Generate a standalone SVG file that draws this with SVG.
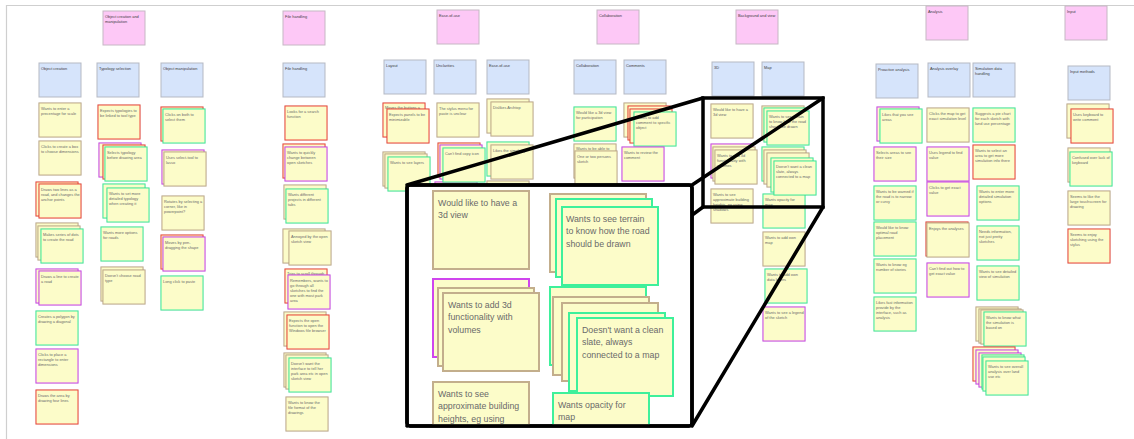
<svg xmlns="http://www.w3.org/2000/svg" width="1134" height="439" viewBox="0 0 1134 439">
<defs>
<style>
.bg{fill:#ffffff}
.frame{fill:none;stroke:#cfcfcf;stroke-width:1.2}
.n{fill:#fcfcc9;stroke-width:1;filter:drop-shadow(0.4px 0.6px 0.5px rgba(0,0,0,0.18))}
.t{stroke:#c3ae8c}
.r{stroke:#f0473b}
.g{stroke:#3ef09b}
.p{stroke:#cf45ee}
.hb{fill:#d6e4fb;stroke:#b5b9c3;stroke-width:1}
.hp{fill:#fdc8f6;stroke:#c6b7c4;stroke-width:1}
.s{font-family:"Liberation Sans",Arial,sans-serif;font-size:3.9px;fill:#6a6a6a}
.h{font-family:"Liberation Sans",Arial,sans-serif;font-size:3.9px;fill:#3e3e3e}
.big{font-family:"Liberation Sans",Arial,sans-serif;font-size:8.8px;fill:#6a6a6a}
.bn{fill:#fcfcc9;stroke-width:2}
.con{stroke:#000;stroke-width:3.5;fill:none;stroke-linecap:round}
.box{fill:#ffffff;stroke:#000;stroke-width:3.5}
</style>
<clipPath id="insetClip"><rect x="408.5" y="186.5" width="282" height="238"/></clipPath>
</defs>
<rect class="bg" x="0" y="0" width="1134" height="439"/>
<path class="frame" d="M6.5 439 V5.5 H1134"/>

<!-- Pink category headers -->
<g id="cat-object"><rect class="hp" x="103" y="11" width="42" height="34"/><text class="h" x="105" y="17.5">Object creation and<tspan x="105" dy="5.2">manipulation</tspan></text></g>
<g id="cat-file"><rect class="hp" x="283" y="11" width="42" height="34"/><text class="h" x="285" y="17.5">File handling</text></g>
<g id="cat-ease"><rect class="hp" x="437" y="10" width="42" height="34"/><text class="h" x="439" y="16.5">Ease-of-use</text></g>
<g id="cat-collab"><rect class="hp" x="597" y="10" width="42" height="34"/><text class="h" x="599" y="16.5">Collaboration</text></g>
<g id="cat-bg"><rect class="hp" x="736" y="10" width="42" height="34"/><text class="h" x="738" y="16.5">Background and view</text></g>
<g id="cat-analysis"><rect class="hp" x="926" y="6" width="42" height="34"/><text class="h" x="928" y="12.5">Analysis</text></g>
<g id="cat-input"><rect class="hp" x="1065" y="6" width="42" height="34"/><text class="h" x="1067" y="12.5">Input</text></g>

<!-- Blue sub headers -->
<g id="h-objcreation"><rect class="hb" x="39" y="63" width="42" height="34"/><text class="h" x="41" y="69.5">Object creation</text></g>
<g id="h-typology"><rect class="hb" x="97" y="63" width="42" height="34"/><text class="h" x="99" y="69.5">Typology selection</text></g>
<g id="h-objmanip"><rect class="hb" x="161" y="63" width="42" height="34"/><text class="h" x="163" y="69.5">Object manipulation</text></g>
<g id="h-file"><rect class="hb" x="283" y="63" width="42" height="34"/><text class="h" x="285" y="69.5">File handling</text></g>
<g id="h-layout"><rect class="hb" x="384" y="60" width="42" height="34"/><text class="h" x="386" y="66.5">Layout</text></g>
<g id="h-unclar"><rect class="hb" x="434" y="60" width="42" height="34"/><text class="h" x="436" y="66.5">Unclarities</text></g>
<g id="h-ease"><rect class="hb" x="487" y="60" width="42" height="34"/><text class="h" x="489" y="66.5">Ease-of-use</text></g>
<g id="h-collab"><rect class="hb" x="574" y="60" width="42" height="34"/><text class="h" x="576" y="66.5">Collaboration</text></g>
<g id="h-comments"><rect class="hb" x="624" y="60" width="42" height="34"/><text class="h" x="626" y="66.5">Comments</text></g>
<g id="h-3d"><rect class="hb" x="712" y="62" width="42" height="34"/><text class="h" x="714" y="68.5">3D</text></g>
<g id="h-map"><rect class="hb" x="762" y="62" width="42" height="34"/><text class="h" x="764" y="68.5">Map</text></g>
<g id="h-proactive"><rect class="hb" x="876" y="64" width="42" height="34"/><text class="h" x="878" y="70.5">Proactive analysis</text></g>
<g id="h-overlay"><rect class="hb" x="928" y="63" width="42" height="34"/><text class="h" x="930" y="69.5">Analysis overlay</text></g>
<g id="h-simdata"><rect class="hb" x="973" y="63" width="42" height="34"/><text class="h" x="975" y="69.5">Simulation data<tspan x="975" dy="5.2">handling</tspan></text></g>
<g id="h-inputm"><rect class="hb" x="1068" y="66" width="42" height="34"/><text class="h" x="1070" y="72.5">Input methods</text></g>

<!-- Object creation -->
<g id="n1"><rect class="n t" x="39" y="103" width="42" height="34"/><text class="s" x="41" y="109.5">Wants to enter a<tspan x="41" dy="5.2">precentage for scale</tspan></text></g>
<g id="n2"><rect class="n t" x="39" y="141" width="42" height="34"/><text class="s" x="41" y="147.5">Clicks to create a box<tspan x="41" dy="5.2">to choose dimensions</tspan></text></g>
<g id="n3"><rect class="n r" x="36" y="182" width="42" height="34"/><rect class="n r" x="39" y="184" width="42" height="34"/><text class="s" x="41" y="190.5">Draws two lines as a<tspan x="41" dy="5.2">road, and changes the</tspan><tspan x="41" dy="5.2">anchor  points</tspan></text></g>
<g id="n4"><rect class="n t" x="36" y="223" width="42" height="34"/><rect class="n t" x="38" y="226" width="42" height="34"/><rect class="n g" x="41" y="229" width="42" height="34"/><text class="s" x="43" y="235.5">Makes series of dots<tspan x="43" dy="5.2">to create the road</tspan></text></g>
<g id="n5"><rect class="n p" x="36" y="269" width="42" height="34"/><rect class="n p" x="39" y="271" width="42" height="34"/><text class="s" x="41" y="277.5">Draws a line to create<tspan x="41" dy="5.2">a road</tspan></text></g>
<g id="n6"><rect class="n g" x="36" y="311" width="42" height="34"/><text class="s" x="38" y="317.5">Creates a polygon by<tspan x="38" dy="5.2">drawing a diagonal</tspan></text></g>
<g id="n7"><rect class="n p" x="36" y="349" width="42" height="34"/><text class="s" x="38" y="355.5">Clicks to place a<tspan x="38" dy="5.2">rectangle to enter</tspan><tspan x="38" dy="5.2">dimensions</tspan></text></g>
<g id="n8"><rect class="n r" x="36" y="390" width="42" height="34"/><text class="s" x="38" y="396.5">Draws the area by<tspan x="38" dy="5.2">drawing four lines</tspan></text></g>

<!-- Typology selection -->
<g id="n9"><rect class="n r" x="98" y="105" width="42" height="34"/><text class="s" x="100" y="111.5">Expects typologies to<tspan x="100" dy="5.2">be linked to tool type</tspan></text></g>
<g id="n10"><rect class="n p" x="99" y="143" width="42" height="34"/><rect class="n r" x="103" y="145" width="42" height="34"/><rect class="n g" x="105" y="147" width="42" height="34"/><text class="s" x="107" y="153.5">Selects typology<tspan x="107" dy="5.2">before drawing area</tspan></text></g>
<g id="n11"><rect class="n g" x="103" y="184" width="42" height="34"/><rect class="n g" x="107" y="188" width="42" height="34"/><text class="s" x="109" y="194.5">Wants to set more<tspan x="109" dy="5.2">detailed typology</tspan><tspan x="109" dy="5.2">when creating it</tspan></text></g>
<g id="n12"><rect class="n g" x="101" y="227" width="42" height="34"/><text class="s" x="103" y="233.5">Wants more options<tspan x="103" dy="5.2">for roads</tspan></text></g>
<g id="n13"><rect class="n t" x="101" y="267" width="42" height="34"/><rect class="n t" x="103" y="270" width="42" height="34"/><text class="s" x="105" y="276.5">Doesn't choose road<tspan x="105" dy="5.2">type</tspan></text></g>

<!-- Object manipulation -->
<g id="n14"><rect class="n r" x="161" y="107" width="42" height="34"/><rect class="n g" x="163" y="109" width="42" height="34"/><text class="s" x="165" y="115.5">Clicks on both to<tspan x="165" dy="5.2">select them</tspan></text></g>
<g id="n15"><rect class="n p" x="162" y="150" width="42" height="34"/><rect class="n t" x="164" y="152" width="42" height="34"/><text class="s" x="166" y="158.5">Uses select-tool to<tspan x="166" dy="5.2">lasso</tspan></text></g>
<g id="n16"><rect class="n t" x="162" y="196" width="42" height="34"/><text class="s" x="164" y="202.5">Rotates by selecting a<tspan x="164" dy="5.2">corner, like in</tspan><tspan x="164" dy="5.2">powerpoint?</tspan></text></g>
<g id="n17"><rect class="n r" x="161" y="235" width="42" height="34"/><rect class="n p" x="163" y="237" width="42" height="34"/><text class="s" x="165" y="243.5">Moves by pen-<tspan x="165" dy="5.2">dragging the shape</tspan></text></g>
<g id="n18"><rect class="n g" x="161" y="276" width="42" height="34"/><text class="s" x="163" y="282.5">Long click to paste</text></g>

<!-- File handling -->
<g id="n19"><rect class="n r" x="285" y="106" width="42" height="34"/><text class="s" x="287" y="112.5">Looks for a search<tspan x="287" dy="5.2">function</tspan></text></g>
<g id="n20"><rect class="n r" x="283" y="144" width="42" height="34"/><rect class="n p" x="285" y="147" width="42" height="34"/><text class="s" x="287" y="153.5">Wants to quickly<tspan x="287" dy="5.2">change between</tspan><tspan x="287" dy="5.2">open sketches</tspan></text></g>
<g id="n21"><rect class="n t" x="284" y="185" width="42" height="34"/><rect class="n g" x="286" y="189" width="42" height="34"/><text class="s" x="288" y="195.5">Wants different<tspan x="288" dy="5.2">projects in different</tspan><tspan x="288" dy="5.2">tabs</tspan></text></g>
<g id="n22"><rect class="n t" x="283" y="229" width="42" height="34"/><rect class="n t" x="289" y="231" width="42" height="34"/><text class="s" x="291" y="237.5">Annoyed by the open<tspan x="291" dy="5.2">sketch view</tspan></text></g>
<g id="n23"><rect class="n r" x="285" y="269" width="42" height="34"/><text class="s" x="287" y="274.5">Tries to scroll through</text><rect class="n p" x="288" y="275" width="42" height="34"/><text class="s" x="290" y="281.5">Remembers, wants to<tspan x="290" dy="5.2">go through all</tspan><tspan x="290" dy="5.2">sketches to find the</tspan><tspan x="290" dy="5.2">one with most park</tspan><tspan x="290" dy="5.2">area</tspan></text></g>
<g id="n24"><rect class="n t" x="284" y="312" width="42" height="34"/><rect class="n r" x="287" y="315" width="42" height="34"/><text class="s" x="289" y="321.5">Expects the open<tspan x="289" dy="5.2">function to open the</tspan><tspan x="289" dy="5.2">Windows file browser</tspan></text></g>
<g id="n25"><rect class="n t" x="284" y="353" width="42" height="34"/><rect class="n t" x="286" y="355" width="42" height="34"/><rect class="n g" x="289" y="358" width="42" height="34"/><text class="s" x="291" y="364.5">Doesn't want the<tspan x="291" dy="5.2">interface to tell her</tspan><tspan x="291" dy="5.2">park area etc in open</tspan><tspan x="291" dy="5.2">sketch view</tspan></text></g>
<g id="n26"><rect class="n t" x="286" y="397" width="42" height="34"/><text class="s" x="288" y="403.5">Wants to know the<tspan x="288" dy="5.2">file format of the</tspan><tspan x="288" dy="5.2">drawings</tspan></text></g>

<!-- Layout / Unclarities / Ease-of-use -->
<g id="n27"><rect class="n r" x="383" y="103" width="42" height="34"/><text class="s" x="385" y="108.5">Moves the buttons a</text><rect class="n r" x="387" y="109" width="42" height="34"/><text class="s" x="389" y="115.5">Expects panels to be<tspan x="389" dy="5.2">minimizable</tspan></text></g>
<g id="n28"><rect class="n t" x="383" y="152" width="42" height="34"/><rect class="n t" x="385" y="154" width="42" height="34"/><rect class="n g" x="388" y="157" width="42" height="34"/><text class="s" x="390" y="163.5">Wants to see layers</text></g>
<g id="n29"><rect class="n t" x="437" y="103" width="42" height="34"/><text class="s" x="439" y="109.5">The stylus menu for<tspan x="439" dy="5.2">paste is unclear</tspan></text></g>
<g id="n30"><rect class="n p" x="435" y="182" width="42" height="34"/><rect class="n r" x="438" y="143" width="42" height="34"/><rect class="n p" x="440" y="145" width="42" height="34"/><rect class="n g" x="443" y="148" width="42" height="34"/><text class="s" x="445" y="154.5">Can't find copy icon</text></g>
<g id="n31"><rect class="n t" x="487" y="99" width="42" height="34"/><rect class="n t" x="491" y="102" width="42" height="34"/><text class="s" x="493" y="108.5">Dislikes Archtop</text></g>
<g id="n32"><rect class="n t" x="487" y="181" width="42" height="34"/><rect class="n g" x="487" y="142" width="42" height="34"/><rect class="n t" x="491" y="145" width="42" height="34"/><text class="s" x="493" y="151.5">Likes the simplicity</text></g>

<!-- Collaboration / Comments -->
<g id="n33"><rect class="n g" x="574" y="107" width="42" height="34"/><text class="s" x="576" y="113.5">Would like a 3d view<tspan x="576" dy="5.2">for participation</tspan></text></g>
<g id="n34"><rect class="n t" x="574" y="144" width="42" height="34"/><text class="s" x="576" y="150">Wants to be able to</text><rect class="n t" x="575" y="151" width="42" height="34"/><text class="s" x="577" y="157.5">One or two persons<tspan x="577" dy="5.2">sketch</tspan></text></g>
<g id="n35"><rect class="n t" x="624" y="103" width="42" height="34"/><rect class="n r" x="628" y="106" width="42" height="34"/><rect class="n r" x="630" y="109" width="42" height="34"/><rect class="n g" x="634" y="112" width="42" height="34"/><text class="s" x="636" y="118.5">Wants to add<tspan x="636" dy="5.2">comment to specific</tspan><tspan x="636" dy="5.2">object</tspan></text></g>
<g id="n36"><rect class="n p" x="622" y="147" width="42" height="34"/><text class="s" x="624" y="153.5">Wants to review the<tspan x="624" dy="5.2">comment</tspan></text></g>

<!-- 3D -->
<g id="n37"><rect class="n t" x="711" y="104" width="42" height="34"/><text class="s" x="713" y="110.5">Would like to have a<tspan x="713" dy="5.2">3d view</tspan></text></g>
<g id="n38"><rect class="n p" x="711" y="144" width="42" height="34"/><rect class="n t" x="713" y="147" width="42" height="34"/><rect class="n t" x="715" y="150" width="42" height="34"/><text class="s" x="717" y="156.5">Wants to add 3d<tspan x="717" dy="5.2">functionality with</tspan><tspan x="717" dy="5.2">volumes</tspan></text></g>
<g id="n39"><rect class="n t" x="711" y="189" width="42" height="34"/><text class="s" x="713" y="195.5">Wants to see<tspan x="713" dy="5.2">approximate building</tspan><tspan x="713" dy="5.2">heights, eg using</tspan><tspan x="713" dy="5.2">shadows</tspan></text></g>

<!-- Map -->
<g id="n40"><rect class="n t" x="762" y="106" width="42" height="34"/><rect class="n g" x="764" y="108" width="42" height="34"/><rect class="n g" x="767" y="111" width="42" height="34"/><text class="s" x="769" y="117.5">Wants to see terrain<tspan x="769" dy="5.2">to know how the road</tspan><tspan x="769" dy="5.2">should be drawn</tspan></text></g>
<g id="n42"><rect class="n g" x="763" y="194" width="42" height="34"/><text class="s" x="765" y="200.5">Wants opacity for<tspan x="765" dy="5.2">map</tspan></text></g>
<g id="n41"><rect class="n g" x="762" y="147" width="42" height="34"/><rect class="n t" x="764" y="150" width="42" height="34"/><rect class="n t" x="767" y="153" width="42" height="34"/><rect class="n g" x="771" y="158" width="42" height="34"/><rect class="n g" x="774" y="161" width="42" height="34"/><text class="s" x="776" y="167.5">Doesn't want a clean<tspan x="776" dy="5.2">slate, always</tspan><tspan x="776" dy="5.2">connected to a map</tspan></text></g>
<g id="n43"><rect class="n t" x="763" y="232" width="42" height="34"/><text class="s" x="765" y="238.5">Wants to add own<tspan x="765" dy="5.2">map</tspan></text></g>
<g id="n44"><rect class="n g" x="765" y="269" width="42" height="34"/><text class="s" x="767" y="275.5">Wants to add own<tspan x="767" dy="5.2">data layers</tspan></text></g>
<g id="n45"><rect class="n p" x="763" y="307" width="42" height="34"/><text class="s" x="765" y="313.5">Wants to see a legend<tspan x="765" dy="5.2">of the sketch</tspan></text></g>

<!-- Proactive analysis -->
<g id="n46"><rect class="n p" x="877" y="107" width="42" height="34"/><rect class="n g" x="880" y="109" width="42" height="34"/><text class="s" x="882" y="115.5">Likes that you see<tspan x="882" dy="5.2">areas</tspan></text></g>
<g id="n47"><rect class="n p" x="874" y="147" width="42" height="34"/><text class="s" x="876" y="153.5">Selects areas to see<tspan x="876" dy="5.2">their size</tspan></text></g>
<g id="n48"><rect class="n g" x="874" y="186" width="42" height="34"/><text class="s" x="876" y="192.5">Wants to be warned if<tspan x="876" dy="5.2">the road is to narrow</tspan><tspan x="876" dy="5.2">or curvy</tspan></text></g>
<g id="n49"><rect class="n g" x="874" y="222" width="42" height="34"/><text class="s" x="876" y="228.5">Would like to know<tspan x="876" dy="5.2">optimal road</tspan><tspan x="876" dy="5.2">placement</tspan></text></g>
<g id="n50"><rect class="n g" x="874" y="259" width="42" height="34"/><text class="s" x="876" y="265.5">Wants to know eg<tspan x="876" dy="5.2">number of stories</tspan></text></g>
<g id="n51"><rect class="n g" x="874" y="297" width="42" height="34"/><text class="s" x="876" y="303.5">Likes fast information<tspan x="876" dy="5.2">provide by the</tspan><tspan x="876" dy="5.2">interface, such as</tspan><tspan x="876" dy="5.2">analysis</tspan></text></g>

<!-- Analysis overlay -->
<g id="n52"><rect class="n t" x="927" y="108" width="42" height="34"/><text class="s" x="929" y="114.5">Clicks the map to get<tspan x="929" dy="5.2">exact simulation level</tspan></text></g>
<g id="n53"><rect class="n p" x="927" y="147" width="42" height="34"/><text class="s" x="929" y="153.5">Uses legend to find<tspan x="929" dy="5.2">value</tspan></text></g>
<g id="n54"><rect class="n p" x="927" y="182" width="42" height="34"/><text class="s" x="929" y="188.5">Clicks to get exact<tspan x="929" dy="5.2">value</tspan></text></g>
<g id="n55"><rect class="n r" x="926" y="222" width="42" height="34"/><rect class="n t" x="927" y="223" width="42" height="34"/><text class="s" x="929" y="229.5">Enjoys the analyses</text></g>
<g id="n56"><rect class="n p" x="927" y="263" width="42" height="34"/><text class="s" x="929" y="269.5">Can't find out how to<tspan x="929" dy="5.2">get exact value</tspan></text></g>

<!-- Simulation data handling -->
<g id="n57"><rect class="n g" x="973" y="108" width="42" height="34"/><text class="s" x="975" y="114.5">Suggests a pie chart<tspan x="975" dy="5.2">for each sketch with</tspan><tspan x="975" dy="5.2">land use percentage</tspan></text></g>
<g id="n58"><rect class="n r" x="973" y="145" width="42" height="34"/><text class="s" x="975" y="151.5">Wants to select an<tspan x="975" dy="5.2">area to get more</tspan><tspan x="975" dy="5.2">simulation info there</tspan></text></g>
<g id="n59"><rect class="n g" x="977" y="186" width="42" height="34"/><text class="s" x="979" y="192.5">Wants to enter more<tspan x="979" dy="5.2">detailed simulation</tspan><tspan x="979" dy="5.2">options</tspan></text></g>
<g id="n60"><rect class="n g" x="977" y="226" width="42" height="34"/><text class="s" x="979" y="232.5">Needs information,<tspan x="979" dy="5.2">not just pretty</tspan><tspan x="979" dy="5.2">sketches</tspan></text></g>
<g id="n61"><rect class="n g" x="977" y="266" width="42" height="34"/><text class="s" x="979" y="272.5">Wants to see detailed<tspan x="979" dy="5.2">view of simulation</tspan></text></g>
<g id="n62"><rect class="n t" x="976" y="307" width="42" height="34"/><rect class="n t" x="979" y="309" width="42" height="34"/><rect class="n t" x="981" y="310" width="42" height="34"/><rect class="n g" x="984" y="312" width="42" height="34"/><text class="s" x="986" y="318.5">Wants to know what<tspan x="986" dy="5.2">the simulation is</tspan><tspan x="986" dy="5.2">based on</tspan></text></g>
<g id="n63"><rect class="n r" x="973" y="347" width="42" height="34"/><rect class="n p" x="976" y="350" width="42" height="34"/><rect class="n p" x="979" y="353" width="42" height="34"/><rect class="n g" x="982" y="355" width="42" height="34"/><rect class="n g" x="983" y="357" width="42" height="34"/><rect class="n g" x="986" y="361" width="42" height="34"/><text class="s" x="988" y="367.5">Wants to see overall<tspan x="988" dy="5.2">analysis over land</tspan><tspan x="988" dy="5.2">use etc</tspan></text></g>

<!-- Input methods -->
<g id="n64"><rect class="n t" x="1067" y="104" width="42" height="34"/><rect class="n r" x="1071" y="109" width="42" height="34"/><text class="s" x="1073" y="115.5">Uses keyboard to<tspan x="1073" dy="5.2">write comment</tspan></text></g>
<g id="n65"><rect class="n t" x="1068" y="148" width="42" height="34"/><rect class="n g" x="1070" y="152" width="42" height="34"/><text class="s" x="1072" y="158.5">Confused over lack of<tspan x="1072" dy="5.2">keyboard</tspan></text></g>
<g id="n66"><rect class="n t" x="1068" y="191" width="42" height="34"/><text class="s" x="1070" y="197.5">Seems to like the<tspan x="1070" dy="5.2">large touchscreen for</tspan><tspan x="1070" dy="5.2">drawing</tspan></text></g>
<g id="n67"><rect class="n r" x="1068" y="229" width="42" height="34"/><text class="s" x="1070" y="235.5">Seems to enjoy<tspan x="1070" dy="5.2">sketching using the</tspan><tspan x="1070" dy="5.2">stylus</tspan></text></g>

<!-- Connectors: magnifier projection lines and source frame -->
<g id="connectors">
<line class="con" x1="703" y1="98" x2="407" y2="185"/>
<line class="con" x1="823" y1="98" x2="692" y2="185"/>
<line class="con" x1="703" y1="207" x2="407" y2="426"/>
<line class="con" x1="823" y1="207" x2="692" y2="426"/>
<rect class="con" x="703" y="98" width="120" height="109"/>
</g>

<!-- Zoomed inset -->
<g id="zoom-inset">
<rect class="box" x="407" y="185" width="285" height="241" rx="3"/>
<g clip-path="url(#insetClip)">
<g id="z1"><rect class="bn t" x="433" y="191" width="96" height="78"/><text class="big" x="438" y="206">Would like to have a<tspan x="438" dy="12">3d view</tspan></text></g>
<g id="z2"><rect class="bn t" x="550" y="194" width="96" height="78"/><rect class="bn g" x="556" y="199" width="96" height="78"/><rect class="bn g" x="562" y="207" width="96" height="78"/><text class="big" x="566" y="222">Wants to see terrain<tspan x="566" dy="12.3">to know how the road</tspan><tspan x="566" dy="12.3">should be drawn</tspan></text></g>
<g id="z3"><rect class="bn p" x="433" y="279" width="96" height="78"/><rect class="bn t" x="438" y="288" width="96" height="78"/><rect class="bn t" x="443" y="293" width="96" height="78"/><text class="big" x="448" y="308">Wants to add 3d<tspan x="448" dy="12.3">functionality with</tspan><tspan x="448" dy="12.3">volumes</tspan></text></g>
<g id="z4"><rect class="bn g" x="550" y="287" width="96" height="78"/><rect class="bn t" x="553" y="297" width="96" height="78"/><rect class="bn t" x="562" y="303" width="96" height="78"/><rect class="bn g" x="569" y="313" width="96" height="78"/><rect class="bn g" x="577" y="318" width="96" height="78"/><text class="big" x="582" y="333">Doesn't want a clean<tspan x="582" dy="12.3">slate, always</tspan><tspan x="582" dy="12.3">connected to a map</tspan></text></g>
<g id="z5"><rect class="bn t" x="433" y="382" width="96" height="78"/><text class="big" x="438" y="397">Wants to see<tspan x="438" dy="12.3">approximate building</tspan><tspan x="438" dy="12.3">heights, eg using</tspan></text></g>
<g id="z6"><rect class="bn g" x="553" y="393" width="96" height="78"/><text class="big" x="558" y="408">Wants opacity for<tspan x="558" dy="12.3">map</tspan></text></g>
</g>
<rect x="407" y="185" width="285" height="241" rx="3" fill="none" stroke="#000" stroke-width="3.5"/>
</g>
</svg>
